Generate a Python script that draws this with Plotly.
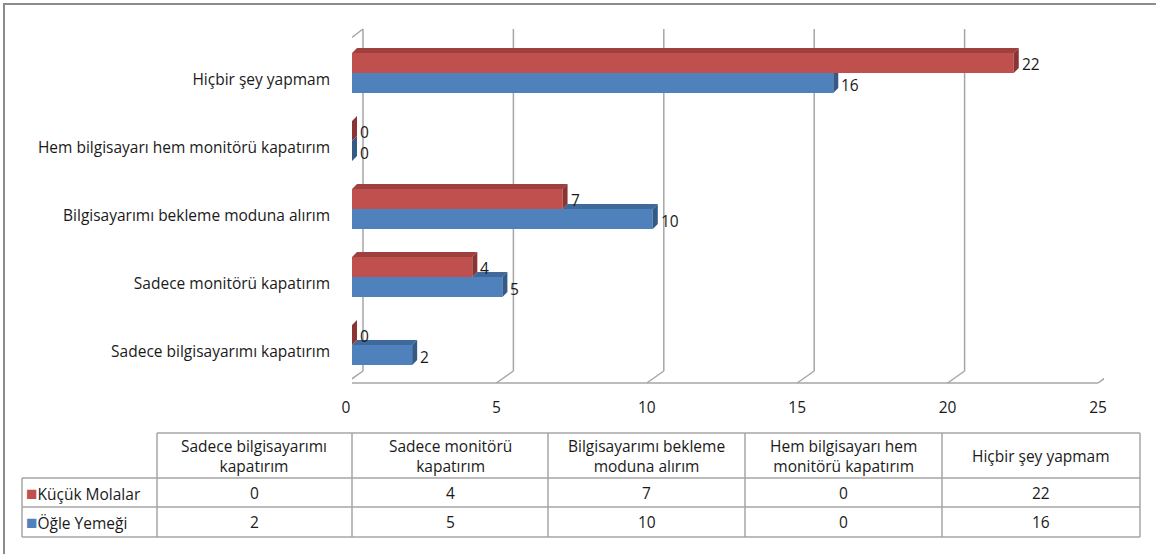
import plotly.graph_objects as go

W, H = 1156, 554

categories = [
    "Sadece bilgisayarımı kapatırım",
    "Sadece monitörü kapatırım",
    "Bilgisayarımı bekleme moduna alırım",
    "Hem bilgisayarı hem monitörü kapatırım",
    "Hiçbir şey yapmam",
]
table_headers = [
    "Sadece bilgisayarımı<br>kapatırım",
    "Sadece monitörü<br>kapatırım",
    "Bilgisayarımı bekleme<br>moduna alırım",
    "Hem bilgisayarı hem<br>monitörü kapatırım",
    "Hiçbir şey yapmam",
]
series_names = ["Küçük Molalar", "Öğle Yemeği"]
kucuk_molalar = [0, 4, 7, 0, 22]
ogle_yemegi = [2, 5, 10, 0, 16]
x_ticks = [0, 5, 10, 15, 20, 25]

RED, RED_TOP, RED_SIDE = "#C0504D", "#9E403E", "#8A3533"
BLUE, BLUE_TOP, BLUE_SIDE = "#4F81BD", "#3F689B", "#365A86"
GRID = "#A6A6A6"
TXT = "#1a1a1a"
FONT = "Open Sans"
FS = 15.5


def px(x):
    return x / W


def py(y):
    return 1 - y / H


PX_PER_UNIT = 30.08
X0 = 352
Y_TOP, Y_BOT = 39, 379
CAT_PX = (Y_BOT - Y_TOP) / len(categories)
BAR_H = 20 / CAT_PX          # one bar thickness in category units
DX = 5 / PX_PER_UNIT          # 3D depth in x units
DY = 5 / CAT_PX               # 3D depth in category units

ypos = list(range(len(categories)))

fig = go.Figure()
# blue first (lower in group), red second (upper)
fig.add_trace(go.Bar(y=ypos, x=ogle_yemegi, orientation="h", name=series_names[1],
                     marker=dict(color=BLUE, line=dict(width=0)), hoverinfo="x+name"))
fig.add_trace(go.Bar(y=ypos, x=kucuk_molalar, orientation="h", name=series_names[0],
                     marker=dict(color=RED, line=dict(width=0)), hoverinfo="x+name"))


def poly_trace(xs, ys, color):
    return go.Scatter(x=xs, y=ys, mode="lines", fill="toself", fillcolor=color,
                      line=dict(width=0, color=color), hoverinfo="skip", showlegend=False)


# 3D faces computed from the data
bt_x, bt_y, bs_x, bs_y, rt_x, rt_y, rs_x, rs_y = [], [], [], [], [], [], [], []
for i, (r, b) in enumerate(zip(kucuk_molalar, ogle_yemegi)):
    if b > r:
        bt_x += [r, b, b + DX, r + DX, r, None]
        bt_y += [i, i, i + DY, i + DY, i, None]
    top = i + DY if b >= r else i
    bs_x += [b, b, b + DX, b + DX, b, None]
    bs_y += [i - BAR_H, i, top, i - BAR_H + DY, i - BAR_H, None]
    rt_x += [0, r, r + DX, DX, 0, None]
    rt_y += [i + BAR_H, i + BAR_H, i + BAR_H + DY, i + BAR_H + DY, i + BAR_H, None]
    rs_x += [r, r, r + DX, r + DX, r, None]
    rs_y += [i, i + BAR_H, i + BAR_H + DY, i + DY, i, None]

fig.add_trace(poly_trace(bt_x, bt_y, BLUE_TOP))
fig.add_trace(poly_trace(bs_x, bs_y, BLUE_SIDE))
fig.add_trace(poly_trace(rt_x, rt_y, RED_TOP))
fig.add_trace(poly_trace(rs_x, rs_y, RED_SIDE))

font = dict(family=FONT, size=FS, color=TXT)

# data labels
annotations = []
for i, (r, b) in enumerate(zip(kucuk_molalar, ogle_yemegi)):
    annotations.append(dict(x=r, y=i + BAR_H / 2, xref="x", yref="y", text=str(r),
                            showarrow=False, xanchor="left", yanchor="middle", xshift=6, yshift=-1,
                            font=font))
    annotations.append(dict(x=b, y=i - BAR_H / 2, xref="x", yref="y", text=str(b),
                            showarrow=False, xanchor="left", yanchor="middle", xshift=6, yshift=-2,
                            font=font))

# 3D gridlines / walls
shapes = []
line = dict(color=GRID, width=1.5)
for v in x_ticks:
    shapes.append(dict(type="line", xref="x", xsizemode="pixel", xanchor=v, x0=11, x1=11,
                       yref="paper", y0=py(29), y1=py(371), line=line, layer="below"))
    shapes.append(dict(type="line", xref="x", xsizemode="pixel", xanchor=v, x0=11, x1=-6,
                       yref="paper", y0=py(371), y1=py(383), line=line, layer="below"))
shapes.append(dict(type="line", xref="x", xsizemode="pixel", xanchor=0, x0=-6, x1=-6,
                   yref="paper", y0=py(42), y1=py(383), line=line, layer="below"))
shapes.append(dict(type="line", xref="x", xsizemode="pixel", xanchor=0, x0=-6, x1=11,
                   yref="paper", y0=py(42), y1=py(29), line=line, layer="below"))
shapes.append(dict(type="line", xref="x", xsizemode="pixel", xanchor=0, x0=-6, x1=-6 + 25 * PX_PER_UNIT,
                   yref="paper", y0=py(383), y1=py(383), line=line, layer="below"))
# outer chart border (only top/left visible)
shapes.append(dict(type="rect", xref="paper", yref="paper", x0=px(4), x1=px(1300),
                   y0=py(4), y1=py(700), line=dict(color="#8C8C8C", width=2)))

# data table drawn with lines + text
col_edges = [22, 157, 352, 548, 745, 942, 1140]
row_edges = [433, 478, 507, 537]
tline = dict(color=GRID, width=1.5)
shapes.append(dict(type="line", xref="paper", yref="paper", x0=px(col_edges[1]), x1=px(col_edges[-1]),
                   y0=py(row_edges[0]), y1=py(row_edges[0]), line=tline))
for ry in row_edges[1:]:
    shapes.append(dict(type="line", xref="paper", yref="paper", x0=px(col_edges[0]), x1=px(col_edges[-1]),
                       y0=py(ry), y1=py(ry), line=tline))
shapes.append(dict(type="line", xref="paper", yref="paper", x0=px(col_edges[0]), x1=px(col_edges[0]),
                   y0=py(row_edges[1]), y1=py(row_edges[-1]), line=tline))
for cx in col_edges[1:]:
    shapes.append(dict(type="line", xref="paper", yref="paper", x0=px(cx), x1=px(cx),
                       y0=py(row_edges[0]), y1=py(row_edges[-1]), line=tline))

for j, htxt in enumerate(table_headers):
    cx = (col_edges[j + 1] + col_edges[j + 2]) / 2
    cy = (row_edges[0] + row_edges[1]) / 2
    annotations.append(dict(x=px(cx), y=py(cy), xref="paper", yref="paper", text=htxt,
                            showarrow=False, xanchor="center", yanchor="middle", align="center",
                            font=font))
rows = [(series_names[0], RED, kucuk_molalar), (series_names[1], BLUE, ogle_yemegi)]
for k, (nm, col, vals) in enumerate(rows):
    cy = (row_edges[k + 1] + row_edges[k + 2]) / 2
    annotations.append(dict(x=px(col_edges[0] + 2), y=py(cy), xref="paper", yref="paper",
                            text=f'<span style="color:{col};font-size:19px">■</span>{nm}',
                            showarrow=False, xanchor="left", yanchor="middle", font=font))
    for j, v in enumerate(vals):
        cx = (col_edges[j + 1] + col_edges[j + 2]) / 2
        annotations.append(dict(x=px(cx), y=py(cy), xref="paper", yref="paper", text=str(v),
                                showarrow=False, xanchor="center", yanchor="middle", font=font))

fig.update_layout(
    width=W, height=H,
    margin=dict(l=0, r=0, t=0, b=0),
    paper_bgcolor="white", plot_bgcolor="white",
    showlegend=False,
    barmode="group", bargap=1 - 40 / CAT_PX, bargroupgap=0,
    shapes=shapes, annotations=annotations,
    xaxis=dict(domain=[px(X0), px(X0 + 25 * PX_PER_UNIT)], range=[0, 25], automargin=False,
               tickvals=x_ticks, showgrid=False, zeroline=False, showline=False,
               ticks="", ticklabelshift=-6, ticklabelstandoff=17,
               tickfont=font, fixedrange=True),
    yaxis=dict(domain=[py(Y_BOT), py(Y_TOP)], range=[-0.5, 4.5], automargin=False,
               tickvals=ypos, ticktext=categories,
               showgrid=False, zeroline=False, showline=False,
               ticks="", ticklabelstandoff=21, ticklabelshift=7,
               tickfont=font, fixedrange=True),
)

fig.write_html("out.html")
